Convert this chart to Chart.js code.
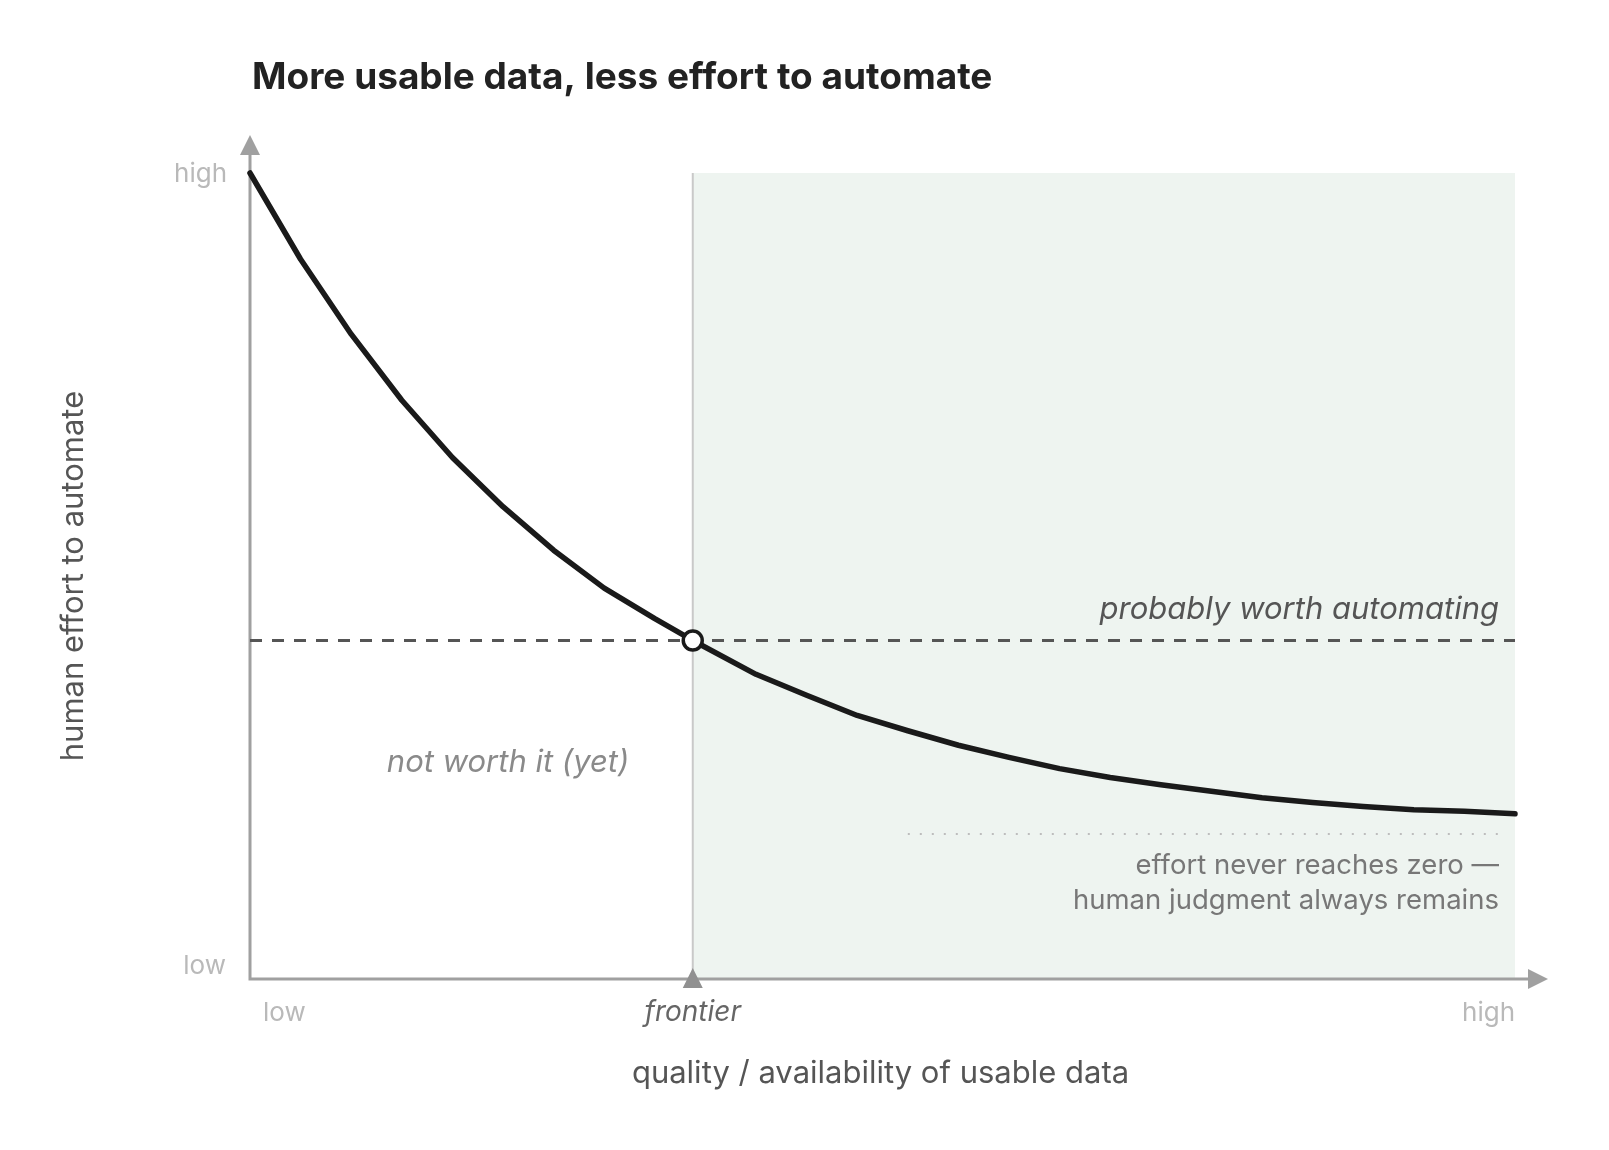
<!DOCTYPE html>
<html>
<head>
<meta charset="utf-8">
<title>More usable data, less effort to automate</title>
<script src="https://cdn.jsdelivr.net/npm/chart.js@4.4.1/dist/chart.umd.min.js"></script>
<style>
  html, body { margin: 0; padding: 0; background: #ffffff; }
  #wrap { width: 1609px; height: 1150px; }
</style>
</head>
<body>
<div id="wrap"><canvas id="myChart" width="1609" height="1150"></canvas></div>
<script>
// data (x: data quality 0-100, y: effort 0-100)
var dataQuality = [0, 4, 8, 12, 16, 20, 24, 28, 32, 35, 40, 44, 48, 52, 56, 60, 64, 68, 72, 76, 80, 84, 88, 92, 96, 100];
var effort = [100, 89.3, 80.0, 71.8, 64.7, 58.6, 53.2, 48.5, 44.7, 42.0, 37.8, 35.2, 32.7, 30.8, 29.0, 27.5, 26.1, 25.0, 24.1, 23.3, 22.5, 21.9, 21.4, 21.0, 20.8, 20.5];

var frontierX = 35;
var thresholdY = 42;
var floorY = 18;
var floorRange = [52, 99];

var xTickLabels = ['low', 'high'];
var yTickLabels = ['low', 'high'];

var chartTitle = 'More usable data, less effort to automate';
var xTitle = 'quality / availability of usable data';
var yTitle = 'human effort to automate';
var frontierLabel = 'frontier';
var worthLabel = 'probably worth automating';
var notWorthLabel = 'not worth it (yet)';
var floorNote = ['effort never reaches zero \u2014', 'human judgment always remains'];

var curvePoints = dataQuality.map(function (x, i) { return { x: x, y: effort[i] }; });

var FONT = 'Inter, "Noto Sans", sans-serif';

var decorPlugin = {
    id: 'decor',
    beforeDatasetsDraw: function (chart) {
        var ctx = chart.ctx;
        var xs = chart.scales.x, ys = chart.scales.y;
        var x0 = xs.getPixelForValue(0), x1 = xs.getPixelForValue(100);
        var y0 = ys.getPixelForValue(0), y1 = ys.getPixelForValue(100);
        var fx = xs.getPixelForValue(frontierX);

        ctx.save();
        // shaded "worth it" zone
        ctx.fillStyle = '#eef4f0';
        ctx.fillRect(fx, y1, x1 - fx, y0 - y1);

        // frontier line
        ctx.strokeStyle = '#c9c9c9';
        ctx.lineWidth = 2;
        ctx.beginPath();
        ctx.moveTo(fx, y1);
        ctx.lineTo(fx, y0);
        ctx.stroke();

        // axes
        ctx.strokeStyle = '#a0a0a0';
        ctx.fillStyle = '#a0a0a0';
        ctx.lineWidth = 3;
        ctx.beginPath();
        ctx.moveTo(x0, y1 - 20);
        ctx.lineTo(x0, y0);
        ctx.lineTo(x1 + 14, y0);
        ctx.stroke();

        // arrow heads
        ctx.beginPath();
        ctx.moveTo(x0, y1 - 38);
        ctx.lineTo(x0 - 10, y1 - 18);
        ctx.lineTo(x0 + 10, y1 - 18);
        ctx.closePath();
        ctx.fill();

        ctx.beginPath();
        ctx.moveTo(x1 + 33, y0);
        ctx.lineTo(x1 + 13, y0 - 10);
        ctx.lineTo(x1 + 13, y0 + 10);
        ctx.closePath();
        ctx.fill();

        // frontier marker on the axis
        ctx.fillStyle = '#909090';
        ctx.beginPath();
        ctx.moveTo(fx, y0 - 11);
        ctx.lineTo(fx - 10, y0 + 9);
        ctx.lineTo(fx + 10, y0 + 9);
        ctx.closePath();
        ctx.fill();
        ctx.restore();
    },
    afterDraw: function (chart) {
        var ctx = chart.ctx;
        var xs = chart.scales.x, ys = chart.scales.y;
        var x0 = xs.getPixelForValue(0), x1 = xs.getPixelForValue(100);
        var y0 = ys.getPixelForValue(0), y1 = ys.getPixelForValue(100);
        var fx = xs.getPixelForValue(frontierX);
        var ty = ys.getPixelForValue(thresholdY);

        ctx.save();

        // title
        ctx.fillStyle = '#222222';
        ctx.font = 'bold 37px ' + FONT;
        ctx.textAlign = 'left';
        ctx.textBaseline = 'alphabetic';
        ctx.fillText(chartTitle, 252, 89);
        ctx.textBaseline = 'middle';

        // y tick labels
        ctx.fillStyle = '#b9b9b9';
        ctx.font = '26px ' + FONT;
        ctx.textAlign = 'right';
        ctx.fillText(yTickLabels[0], x0 - 24, y0 - 13);
        ctx.fillText(yTickLabels[1], x0 - 23, y1 + 1);

        // x tick labels
        ctx.textAlign = 'left';
        ctx.fillText(xTickLabels[0], x0 + 13, y0 + 34);
        ctx.textAlign = 'right';
        ctx.fillText(xTickLabels[1], x1, y0 + 34);

        // frontier label
        ctx.fillStyle = '#666666';
        ctx.font = 'italic 28px ' + FONT;
        ctx.textAlign = 'center';
        ctx.fillText(frontierLabel, fx, y0 + 34);

        // axis titles
        ctx.fillStyle = '#555555';
        ctx.font = '31px ' + FONT;
        ctx.fillText(xTitle, (x0 + x1) / 2 - 2, y0 + 95);

        ctx.save();
        ctx.translate(74, (y0 + y1) / 2);
        ctx.rotate(-Math.PI / 2);
        ctx.fillText(yTitle, 0, 0);
        ctx.restore();

        // region labels
        ctx.font = 'italic 31px ' + FONT;
        ctx.fillStyle = '#555555';
        ctx.textAlign = 'right';
        ctx.fillText(worthLabel, x1 - 16, ty - 31);

        ctx.fillStyle = '#8a8a8a';
        ctx.textAlign = 'center';
        ctx.fillText(notWorthLabel, xs.getPixelForValue(20.4), ys.getPixelForValue(26.8));

        // floor note
        ctx.fillStyle = '#777777';
        ctx.font = '27.5px ' + FONT;
        ctx.textAlign = 'right';
        var fy = ys.getPixelForValue(floorY);
        ctx.fillText(floorNote[0], x1 - 16, fy + 32);
        ctx.fillText(floorNote[1], x1 - 16, fy + 67);
        ctx.restore();
    }
};

var ctx = document.getElementById('myChart').getContext('2d');
var myChart = new Chart(ctx, {
    type: 'line',
    data: {
        datasets: [
            {
                label: 'frontier point',
                data: [{ x: frontierX, y: thresholdY }],
                showLine: false,
                pointRadius: 9.5,
                pointBackgroundColor: '#ffffff',
                pointBorderColor: '#1a1a1a',
                pointBorderWidth: 3.5,
                order: 0
            },
            {
                label: 'effort',
                data: curvePoints,
                borderColor: '#1a1a1a',
                borderWidth: 5.5,
                tension: 0,
                pointRadius: 0,
                borderCapStyle: 'round',
                borderJoinStyle: 'round',
                order: 1
            },
            {
                label: 'threshold',
                data: [{ x: 0, y: thresholdY }, { x: 100, y: thresholdY }],
                borderColor: '#555555',
                borderWidth: 3,
                borderDash: [12, 10],
                pointRadius: 0,
                order: 2
            },
            {
                label: 'floor',
                data: [{ x: floorRange[0], y: floorY }, { x: floorRange[1], y: floorY }],
                borderColor: '#bdbdbd',
                borderWidth: 2,
                borderDash: [2, 10],
                pointRadius: 0,
                order: 3
            }
        ]
    },
    options: {
        responsive: false,
        animation: false,
        clip: false,
        layout: {
            padding: { left: 250, right: 94, top: 173, bottom: 171 }
        },
        scales: {
            x: { type: 'linear', min: 0, max: 100, display: false },
            y: { type: 'linear', min: 0, max: 100, display: false }
        },
        plugins: {
            legend: { display: false },
            tooltip: { enabled: false },
            title: { display: false }
        }
    },
    plugins: [decorPlugin]
});
</script>
</body>
</html>
